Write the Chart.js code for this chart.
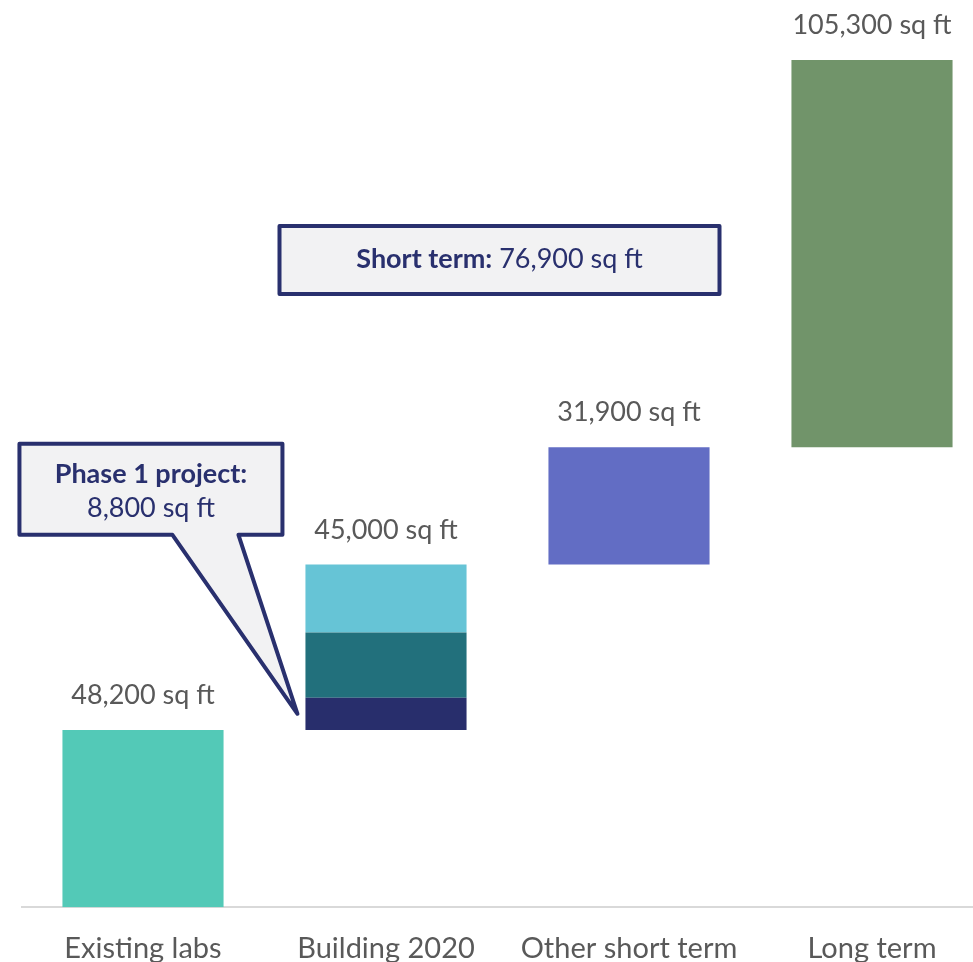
<!DOCTYPE html>
<html>
<head>
<meta charset="utf-8">
<script src="https://cdn.jsdelivr.net/npm/chart.js@4.4.1/dist/chart.umd.min.js"></script>
<style>
  html, body { margin: 0; padding: 0; background: #ffffff; overflow: hidden; width: 973px; height: 962px; }
  #wrap { position: absolute; left: 0; top: 0; width: 1000px; height: 962px; }
</style>
</head>
<body>
<div id="wrap"><canvas id="c" width="1000" height="962"></canvas></div>
<script>
// Lab space build-up, in square feet
const categories = ['Existing labs', 'Building 2020', 'Other short term', 'Long term'];
const stepValues = [48200, 45000, 31900, 105300];
// Building 2020 split: Phase 1 project, second phase, third phase
const building2020Parts = [8800, 17700, 18500];
const phase1Value = 8800;
const shortTermTotal = 76900;
const yMax = 240000;

const FONT = 'Lato, "Open Sans", sans-serif';
const GREY = '#595959';
const NAVY = '#29306e';

// running totals give each floating bar its start and end
const starts = [];
const ends = [];
let run = 0;
stepValues.forEach(v => { starts.push(run); run += v; ends.push(run); });

function floating(index, lo, hi) {
  return categories.map((_, i) => (i === index ? [lo, hi] : null));
}

const partColors = ['#282e6c', '#22707c', '#66c4d6'];
const datasets = [
  { label: categories[0], data: floating(0, starts[0], ends[0]), backgroundColor: '#53c9b7' }
];
let partStart = starts[1];
building2020Parts.forEach((p, k) => {
  datasets.push({ label: 'Building 2020 part ' + (k + 1), data: floating(1, partStart, partStart + p), backgroundColor: partColors[k] });
  partStart += p;
});
datasets.push({ label: categories[2], data: floating(2, starts[2], ends[2]), backgroundColor: '#626dc4' });
datasets.push({ label: categories[3], data: floating(3, starts[3], ends[3]), backgroundColor: '#71946a' });
datasets.forEach(d => { d.grouped = false; d.barPercentage = 0.663; d.categoryPercentage = 1; d.borderWidth = 0; });

const fmt = v => v.toLocaleString('en-US') + ' sq ft';

// value labels above each step
const stepLabels = {
  id: 'stepLabels',
  afterDatasetsDraw(chart) {
    const { ctx, scales: { x, y } } = chart;
    ctx.save();
    ctx.font = '27px ' + FONT;
    ctx.fillStyle = GREY;
    ctx.textAlign = 'center';
    ctx.textBaseline = 'alphabetic';
    stepValues.forEach((v, i) => {
      ctx.fillText(fmt(v), x.getPixelForValue(i), y.getPixelForValue(ends[i]) - 26);
    });
    ctx.restore();
  }
};

// callouts: short-term total and the Phase 1 speech bubble
const callouts = {
  id: 'callouts',
  afterDatasetsDraw(chart) {
    const { ctx, scales: { x } } = chart;
    ctx.save();
    ctx.lineWidth = 4;
    ctx.lineJoin = 'round';
    ctx.strokeStyle = NAVY;
    ctx.fillStyle = '#f2f2f3';

    // short-term box, centred between the two short-term steps
    const cx = (x.getPixelForValue(1) + x.getPixelForValue(2)) / 2 - 8;
    const bw = 440, bh = 68, by = 226;
    ctx.beginPath();
    ctx.rect(cx - bw / 2, by, bw, bh);
    ctx.fill();
    ctx.stroke();
    const boldPart = 'Short term:';
    const restPart = ' ' + fmt(shortTermTotal);
    ctx.font = 'bold 27px ' + FONT;
    const w1 = ctx.measureText(boldPart).width;
    ctx.font = '27px ' + FONT;
    const w2 = ctx.measureText(restPart).width;
    let tx = cx - (w1 + w2) / 2;
    ctx.textBaseline = 'alphabetic';
    ctx.textAlign = 'left';
    ctx.fillStyle = NAVY;
    ctx.font = 'bold 27px ' + FONT;
    ctx.fillText(boldPart, tx, by + 42);
    ctx.font = '27px ' + FONT;
    ctx.fillText(restPart, tx + w1, by + 42);

    // Phase 1 bubble pointing at the middle of its segment
    const seg = chart.getDatasetMeta(1).data[1];
    const tipX = seg.x - seg.width / 2 - 8;
    const tipY = (seg.y + seg.base) / 2;
    const left = tipX - 278, right = tipX - 15;
    const top = tipY - 270, bottom = tipY - 179;
    ctx.fillStyle = '#f2f2f3';
    ctx.beginPath();
    ctx.moveTo(left, top);
    ctx.lineTo(right, top);
    ctx.lineTo(right, bottom);
    ctx.lineTo(tipX - 59, bottom);
    ctx.lineTo(tipX, tipY);
    ctx.lineTo(tipX - 125, bottom);
    ctx.lineTo(left, bottom);
    ctx.closePath();
    ctx.fill();
    ctx.stroke();
    const bcx = (left + right) / 2;
    ctx.fillStyle = NAVY;
    ctx.textAlign = 'center';
    ctx.font = 'bold 27px ' + FONT;
    ctx.fillText('Phase 1 project:', bcx, top + 39);
    ctx.font = '27px ' + FONT;
    ctx.fillText(fmt(phase1Value), bcx, top + 73);
    ctx.restore();
  }
};

new Chart(document.getElementById('c'), {
  type: 'bar',
  data: { labels: categories, datasets },
  options: {
    responsive: false,
    animation: false,
    devicePixelRatio: 1,
    layout: { padding: { left: 21.5, right: 6.5, top: 24.6, bottom: 0 } },
    plugins: { legend: { display: false }, tooltip: { enabled: false } },
    scales: {
      x: {
        grid: { display: false, drawTicks: false },
        border: { display: true, color: '#d9d9d9', width: 2 },
        ticks: { color: GREY, font: { family: FONT, size: 29 }, padding: 24, autoSkip: false, maxRotation: 0 },
        afterFit(scale) { scale.height = 54.7; }
      },
      y: { display: false, min: 0, max: yMax }
    }
  },
  plugins: [stepLabels, callouts]
});
</script>
</body>
</html>
